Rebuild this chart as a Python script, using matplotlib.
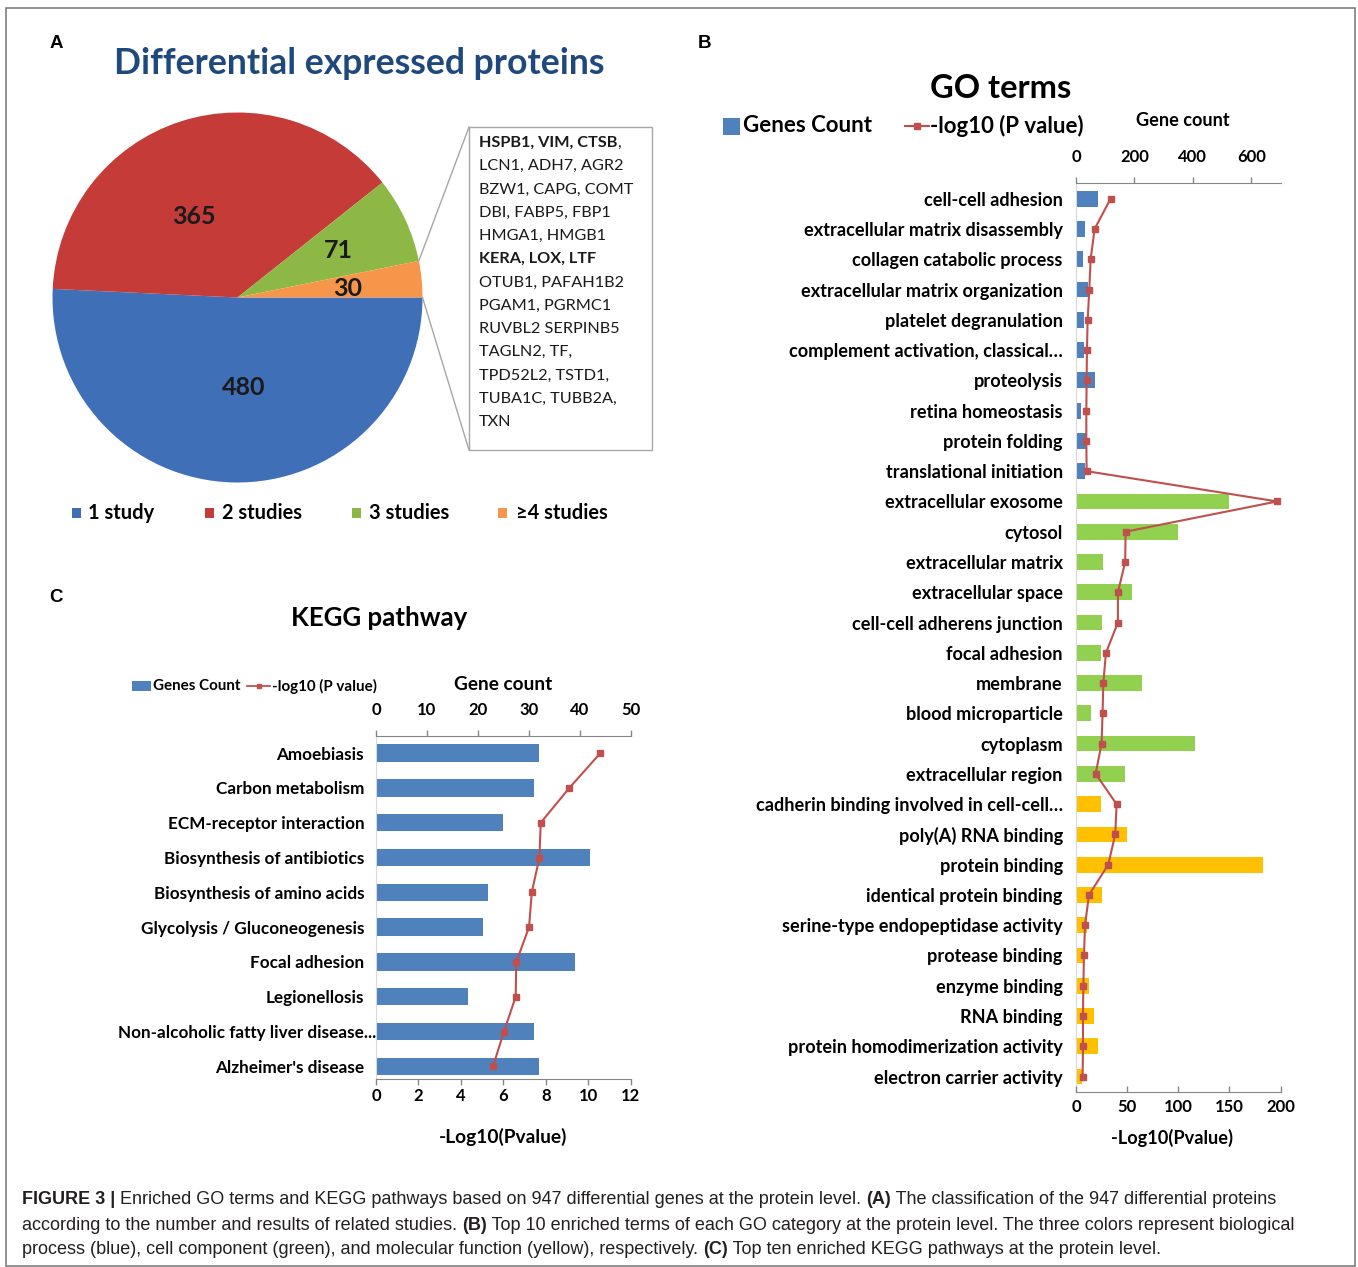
import matplotlib
matplotlib.use("Agg")
import matplotlib.pyplot as plt
from matplotlib.patches import Rectangle
from matplotlib.lines import Line2D
from matplotlib.transforms import ScaledTranslation
import numpy as np

W, H, DPI = 1358, 1267, 100

# ---------------- data ----------------
# Panel A: proteins grouped by number of supporting studies
study_labels = ["1 study", "2 studies", "3 studies", "\u22654 studies"]
study_counts = [480, 365, 71, 30]
study_colors = ["#3F6FB6", "#C43B38", "#8DB845", "#F7964A"]

# proteins reported in at least four studies (bold = highlighted)
gene_box_lines = [
    [("HSPB1, VIM, CTSB", True), (",", False)],
    [("LCN1, ADH7, AGR2", False)],
    [("BZW1, CAPG, COMT", False)],
    [("DBI, FABP5, FBP1", False)],
    [("HMGA1, HMGB1", False)],
    [("KERA, LOX, LTF", True)],
    [("OTUB1, PAFAH1B2", False)],
    [("PGAM1, PGRMC1", False)],
    [("RUVBL2 SERPINB5", False)],
    [("TAGLN2, TF,", False)],
    [("TPD52L2, TSTD1,", False)],
    [("TUBA1C, TUBB2A,", False)],
    [("TXN", False)],
]

# Panel B: GO enrichment
go_terms = [
    "cell-cell adhesion", "extracellular matrix disassembly", "collagen catabolic process",
    "extracellular matrix organization", "platelet degranulation",
    "complement activation, classical\u2026", "proteolysis", "retina homeostasis",
    "protein folding", "translational initiation",
    "extracellular exosome", "cytosol", "extracellular matrix", "extracellular space",
    "cell-cell adherens junction", "focal adhesion", "membrane", "blood microparticle",
    "cytoplasm", "extracellular region",
    "cadherin binding involved in cell-cell\u2026", "poly(A) RNA binding", "protein binding",
    "identical protein binding", "serine-type endopeptidase activity", "protease binding",
    "enzyme binding", "RNA binding", "protein homodimerization activity",
    "electron carrier activity",
]
go_category = ["BP"] * 10 + ["CC"] * 10 + ["MF"] * 10
go_counts = [76, 32, 25, 41, 28, 27, 66, 17, 35, 31,
             524, 350, 93, 192, 89, 84, 225, 50, 408, 168,
             84, 176, 641, 90, 39, 25, 43, 61, 74, 20]
go_logp = [33.8, 18.2, 14.3, 13.0, 11.4, 10.7, 10.4, 10.1, 10.1, 10.4,
           196.7, 48.5, 48.1, 41.0, 41.0, 29.3, 26.7, 26.0, 25.0, 19.2,
           39.7, 38.4, 31.5, 12.7, 8.8, 7.8, 7.2, 6.8, 6.8, 6.5]
go_count_ticks = [0, 200, 400, 600]
go_logp_ticks = [0, 50, 100, 150, 200]

# Panel C: KEGG enrichment
kegg_pathways = [
    "Amoebiasis", "Carbon metabolism", "ECM-receptor interaction",
    "Biosynthesis of antibiotics", "Biosynthesis of amino acids",
    "Glycolysis / Gluconeogenesis", "Focal adhesion", "Legionellosis",
    "Non-alcoholic fatty liver disease...", "Alzheimer's disease",
]
kegg_counts = [32, 31, 25, 42, 22, 21, 39, 18, 31, 32]
kegg_logp = [10.57, 9.11, 7.76, 7.70, 7.34, 7.21, 6.61, 6.58, 6.03, 5.51]
kegg_count_ticks = [0, 10, 20, 30, 40, 50]
kegg_logp_ticks = [0, 2, 4, 6, 8, 10, 12]

caption_lines = [
    [("FIGURE 3 |", True),
     (" Enriched GO terms and KEGG pathways based on 947 differential genes at the protein level. ", False),
     ("(A)", True), (" The classification of the 947 differential proteins", False)],
    [("according to the number and results of related studies. ", False), ("(B)", True),
     (" Top 10 enriched terms of each GO category at the protein level. The three colors represent biological",
      False)],
    [("process (blue), cell component (green), and molecular function (yellow), respectively. ", False),
     ("(C)", True), (" Top ten enriched KEGG pathways at the protein level.", False)],
]

# ---------------- style ----------------
BAR_BLUE = "#4F81BD"
CAT_COLORS = {"BP": "#4F81BD", "CC": "#92D050", "MF": "#FFC000"}
LINE_RED = "#C0504D"
AXIS_GRAY = "#868686"
LIGHT_GRAY = "#D9D9D9"
TEXT_FONT = ["Lato", "DejaVu Sans"]
plt.rcParams["font.family"] = TEXT_FONT
plt.rcParams["font.weight"] = "bold"

# pie value labels: radial position and angular nudge (degrees) per slice
PIE_LABEL_R = [0.49, 0.50, 0.60, 0.60]
PIE_LABEL_NUDGE = [5.5, 10.5, 0.0, -0.8]

fig = plt.figure(figsize=(W / DPI, H / DPI), dpi=DPI)
renderer = fig.canvas.get_renderer()


def fx(x):
    return x / W


def fy(y):
    return 1 - y / H


def rect_px(x0, y0, x1, y1):
    return [x0 / W, 1 - y1 / H, (x1 - x0) / W, (y1 - y0) / H]


def ftext(x, y, s, **kw):
    kw.setdefault("va", "center")
    return fig.text(fx(x), fy(y), s, **kw)


def text_width(s, **kw):
    t = fig.text(0, 0, s + "|", **kw)
    u = fig.text(0, 0, "|", **kw)
    w = t.get_window_extent(renderer).width - u.get_window_extent(renderer).width
    t.remove()
    u.remove()
    return w


def seg_text(x, y, segments, **kw):
    cur = x
    for s, bold in segments:
        props = dict(kw, fontweight="bold" if bold else "normal")
        ftext(cur, y, s, ha="left", **props)
        cur += text_width(s, **props)


# outer frame
fig.add_artist(Rectangle((fx(6), fy(1266)), (1355 - 6) / W, (1266 - 8) / H,
                         transform=fig.transFigure, fill=False, edgecolor="#7F7F7F", lw=1.2))

# panel letters
for letter, (x, y) in zip("ABC", [(56, 43), (704, 44), (56, 598)]):
    ftext(x, y, letter, ha="center", fontsize=13.5, family=["Liberation Sans"], fontweight="bold")

# ---------------- Panel A ----------------
ftext(359, 63, "Differential expressed proteins", ha="center", fontsize=25.6, color="#1F497D")

ax_pie = fig.add_axes(rect_px(52.5, 112.5, 422.5, 482.5))
wedges, _ = ax_pie.pie(study_counts, colors=study_colors, startangle=0, counterclock=False,
                       radius=1, wedgeprops=dict(linewidth=0))
ax_pie.set_xlim(-1, 1)
ax_pie.set_ylim(-1, 1)
ax_pie.set_aspect("equal")
ax_pie.axis("off")
ax_pie.apply_aspect()
for w, n, r, nudge in zip(wedges, study_counts, PIE_LABEL_R, PIE_LABEL_NUDGE):
    mid = np.deg2rad((w.theta1 + w.theta2) / 2 + nudge)
    ax_pie.text(r * np.cos(mid), r * np.sin(mid), str(n), ha="center", va="center",
                fontsize=18, color="#1A1A1A")

# box listing the >=4-study proteins, linked to the smallest slice
box_x0, box_y0, box_x1, box_y1 = 469, 127, 652, 450
fig.add_artist(Rectangle((fx(box_x0), fy(box_y1)), (box_x1 - box_x0) / W, (box_y1 - box_y0) / H,
                         transform=fig.transFigure, fill=False, edgecolor="#A6A6A6", lw=1))
small = wedges[-1]
to_fig = fig.transFigure.inverted()
for ang, (bx, by) in [(small.theta2, (box_x0, box_y0)), (small.theta1, (box_x0, box_y1))]:
    a = np.deg2rad(ang)
    p = to_fig.transform(ax_pie.transData.transform((np.cos(a), np.sin(a))))
    fig.add_artist(Line2D([p[0], fx(bx)], [p[1], fy(by)], transform=fig.transFigure,
                          color="#A6A6A6", lw=1))

for i, segs in enumerate(gene_box_lines):
    seg_text(479, 143 + 23.25 * i, segs, fontsize=11.7, color="#1A1A1A")

# pie legend
for (sq_x, tx), lab, col in zip([(76, 88), (209, 222), (356, 369), (503, 516)], study_labels, study_colors):
    fig.add_artist(Rectangle((fx(sq_x - 4.5), fy(513 + 4.5)), 9 / W, 9 / H,
                             transform=fig.transFigure, color=col, lw=0))
    ftext(tx, 513, lab, ha="left", fontsize=14.4)

# ---------------- Panel B ----------------
ftext(1001, 88, "GO terms", ha="center", fontsize=23.5)
fig.add_artist(Rectangle((fx(723), fy(135)), 17 / W, 17 / H, transform=fig.transFigure,
                         color=BAR_BLUE, lw=0))
ftext(743, 126, "Genes Count", ha="left", fontsize=16)
fig.add_artist(Line2D([fx(905), fx(929)], [fy(126), fy(126)], transform=fig.transFigure,
                      color=LINE_RED, lw=1.5))
fig.add_artist(Line2D([fx(917)], [fy(126)], transform=fig.transFigure, color=LINE_RED,
                      marker="s", ms=4.5, lw=0))
ftext(930, 126, "-log10 (P value)", ha="left", fontsize=16)
ftext(1183, 120, "Gene count", ha="center", fontsize=13.1)
ftext(1172, 1138, "-Log10(Pvalue)", ha="center", fontsize=13.1)

axb = fig.add_axes(rect_px(1076, 182.7, 1280.5, 1091.7))
axb2 = axb.twiny()
ypos = np.arange(len(go_terms))
axb.barh(ypos, go_counts, height=0.52, color=[CAT_COLORS[c] for c in go_category], lw=0)
axb.set_xlim(0, 700)
axb.set_ylim(29.5, -0.53)
axb.xaxis.set_ticks_position("top")
axb.set_xticks(go_count_ticks)
axb.tick_params(axis="x", direction="out", length=4, width=1, color=AXIS_GRAY, pad=8.5, labelsize=12)
axb.set_yticks(ypos)
axb.set_yticklabels(go_terms)
axb.tick_params(axis="y", length=0, pad=9.5, labelsize=13.1)
for sp in ["right", "bottom"]:
    axb.spines[sp].set_visible(False)
axb.spines["top"].set_color(AXIS_GRAY)
axb.spines["left"].set_color(LIGHT_GRAY)

axb2.plot(go_logp, ypos, color=LINE_RED, lw=1.5, marker="s", ms=5)
axb2.set_xlim(0, 200)
axb2.xaxis.set_ticks_position("bottom")
axb2.set_xticks(go_logp_ticks)
axb2.tick_params(axis="x", direction="in", length=4.5, width=1, color=AXIS_GRAY, pad=5, labelsize=12)
for sp in ["top", "right", "left"]:
    axb2.spines[sp].set_visible(False)
axb2.spines["bottom"].set_visible(True)
axb2.spines["bottom"].set_color(AXIS_GRAY)

# ---------------- Panel C ----------------
ftext(379, 618, "KEGG pathway", ha="center", fontsize=18.6)
fig.add_artist(Rectangle((fx(132), fy(691)), 19 / W, 10 / H, transform=fig.transFigure,
                         color=BAR_BLUE, lw=0))
ftext(153, 686, "Genes Count", ha="left", fontsize=10.9)
fig.add_artist(Line2D([fx(247), fx(270)], [fy(686), fy(686)], transform=fig.transFigure,
                      color=LINE_RED, lw=1.3))
fig.add_artist(Line2D([fx(258.5)], [fy(686)], transform=fig.transFigure, color=LINE_RED,
                      marker="s", ms=3.5, lw=0))
ftext(272, 686, "-log10 (P value)", ha="left", fontsize=10.9)
ftext(503, 685, "Gene count", ha="center", fontsize=13.7)
ftext(503, 1137, "-Log10(Pvalue)", ha="center", fontsize=13.8)

axc = fig.add_axes(rect_px(376, 735.7, 630.7, 1079.3))
axc2 = axc.twiny()
kpos = np.arange(len(kegg_pathways))
axc.barh(kpos, kegg_counts, height=0.5, color=BAR_BLUE, lw=0)
axc.set_xlim(0, 50)
axc.set_ylim(9.37, -0.5)
axc.xaxis.set_ticks_position("top")
axc.set_xticks(kegg_count_ticks)
axc.tick_params(axis="x", direction="out", length=4, width=1, color=AXIS_GRAY, pad=9, labelsize=12)
axc.set_yticks(kpos)
axc.set_yticklabels(kegg_pathways)
axc.tick_params(axis="y", length=0, pad=8.5, labelsize=12.3)
# the truncated pathway name runs up to the axis line
long_lbl = axc.get_yticklabels()[8]
long_lbl.set_transform(long_lbl.get_transform() + ScaledTranslation(12 / DPI, 0, fig.dpi_scale_trans))
for sp in ["right", "bottom"]:
    axc.spines[sp].set_visible(False)
axc.spines["top"].set_color(AXIS_GRAY)
axc.spines["left"].set_color(LIGHT_GRAY)

axc2.plot(kegg_logp, kpos, color=LINE_RED, lw=1.5, marker="s", ms=5)
axc2.set_xlim(0, 12)
axc2.xaxis.set_ticks_position("bottom")
axc2.set_xticks(kegg_logp_ticks)
axc2.tick_params(axis="x", direction="out", length=4, width=1, color=AXIS_GRAY, pad=2, labelsize=12)
for sp in ["top", "right", "left"]:
    axc2.spines[sp].set_visible(False)
axc2.spines["bottom"].set_visible(True)
axc2.spines["bottom"].set_color(AXIS_GRAY)

# ---------------- caption ----------------
for i, segs in enumerate(caption_lines):
    seg_text(22, 1200 + 25 * i, segs, fontsize=12.95, family=["Liberation Sans"], color="#231F20")

fig.savefig("out.png", dpi=DPI)
